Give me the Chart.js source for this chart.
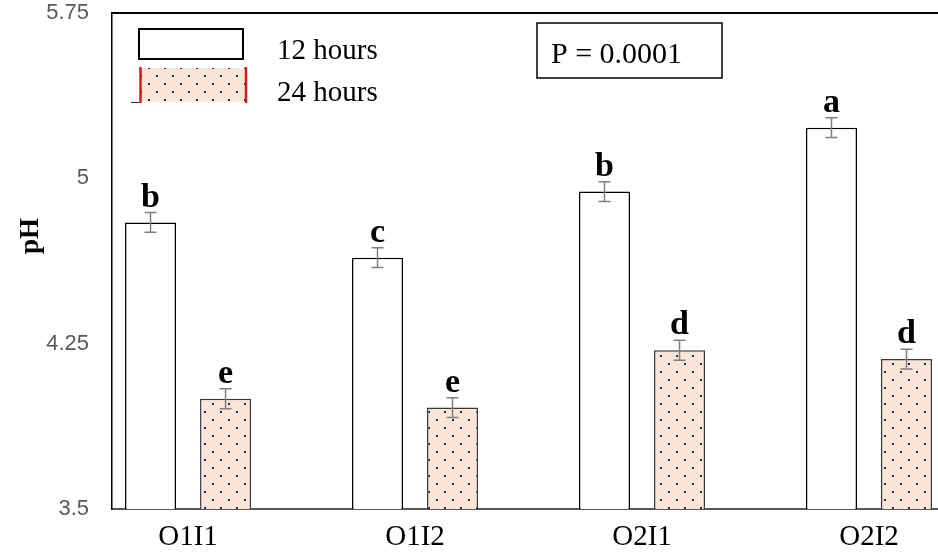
<!DOCTYPE html>
<html>
<head>
<meta charset="utf-8">
<script src="https://cdn.jsdelivr.net/npm/chart.js@4/dist/chart.umd.min.js"></script>
<style>
  html, body { margin: 0; padding: 0; background: #fff; overflow: hidden; }
  #wrap { width: 938px; height: 554px; }
</style>
</head>
<body>
<div id="wrap"><canvas id="c" width="938" height="554"></canvas></div>
<script>
// Treatments on the x axis
const categories = ['O1I1', 'O1I2', 'O2I1', 'O2I2'];
const seriesNames = ['12 hours', '24 hours'];

// Mean pH per treatment and its standard error
const ph12h = [4.80, 4.64, 4.94, 5.23];
const ph24h = [4.00, 3.96, 4.22, 4.18];
const se12h = [0.045, 0.045, 0.045, 0.045];
const se24h = [0.045, 0.045, 0.045, 0.045];

// Mean-separation letters shown above each bar
const groups12h = ['b', 'c', 'b', 'a'];
const groups24h = ['e', 'e', 'd', 'd'];

const yTicks = [3.5, 4.25, 5, 5.75];
const yTitle = 'pH';
const pValueText = 'P = 0.0001';

const SERIF = '"Liberation Serif", "Times New Roman", serif';
const SANS = '"Liberation Sans", Arial, sans-serif';
const PEACH = '#fbe5d6';
const NAVY = '#1f2b5c';

// Peach fill with a staggered grid of small navy dots
function dotPattern() {
  const t = document.createElement('canvas');
  t.width = 16; t.height = 16;
  const g = t.getContext('2d');
  g.fillStyle = PEACH;
  g.fillRect(0, 0, 16, 16);
  g.fillStyle = NAVY;
  g.fillRect(4, 3, 2, 2);
  g.fillRect(12, 11, 2, 2);
  return g.createPattern(t, 'repeat');
}

const ctx0 = document.getElementById('c').getContext('2d');
const pattern = dotPattern();

const toPoints = arr => arr.map((v, i) => ({ x: i + 1, y: v }));

const errors = [se12h, se24h];
const letters = [groups12h, groups24h];

const decorations = {
  id: 'decorations',
  afterDatasetsDraw(chart) {
    const ctx = chart.ctx;
    const y = chart.scales.y;
    chart.data.datasets.forEach((ds, di) => {
      const meta = chart.getDatasetMeta(di);
      meta.data.forEach((bar, j) => {
        const v = ds.data[j].y;
        const e = errors[di][j];
        const yHi = y.getPixelForValue(v + e);
        const yLo = y.getPixelForValue(v - e);
        const x = bar.x;
        ctx.save();
        ctx.strokeStyle = '#7f7f7f';
        ctx.lineWidth = 1.5;
        ctx.beginPath();
        ctx.moveTo(x, yHi); ctx.lineTo(x, yLo);
        ctx.moveTo(x - 6, yHi); ctx.lineTo(x + 6, yHi);
        ctx.moveTo(x - 6, yLo); ctx.lineTo(x + 6, yLo);
        ctx.stroke();
        ctx.fillStyle = '#000';
        ctx.font = 'bold 34px ' + SERIF;
        ctx.textAlign = 'center';
        ctx.textBaseline = 'alphabetic';
        ctx.fillText(letters[di][j], x, yHi - 6);
        ctx.restore();
      });
    });
  },
  afterDraw(chart) {
    const ctx = chart.ctx;
    const a = chart.chartArea;
    ctx.save();
    // frame line along the top of the plot
    ctx.strokeStyle = '#000';
    ctx.lineWidth = 2;
    ctx.beginPath();
    ctx.moveTo(a.left, a.top);
    ctx.lineTo(a.right, a.top);
    ctx.stroke();

    // y axis title
    ctx.save();
    ctx.translate(31, 236);
    ctx.rotate(-Math.PI / 2);
    ctx.font = 'bold 27px ' + SERIF;
    ctx.fillStyle = '#000';
    ctx.textAlign = 'center';
    ctx.textBaseline = 'middle';
    ctx.fillText(yTitle, 0, 0);
    ctx.restore();

    // legend swatches
    ctx.fillStyle = '#fff';
    ctx.fillRect(139, 29, 104, 30);
    ctx.strokeStyle = '#000';
    ctx.lineWidth = 2;
    ctx.strokeRect(139, 29, 104, 30);

    ctx.fillStyle = pattern;
    ctx.fillRect(140, 68, 107, 34);
    ctx.strokeStyle = '#d01c1c';
    ctx.lineWidth = 2.5;
    ctx.beginPath();
    ctx.moveTo(140.5, 67); ctx.lineTo(140.5, 103);
    ctx.moveTo(246, 67); ctx.lineTo(246, 103);
    ctx.stroke();
    ctx.strokeStyle = '#333';
    ctx.lineWidth = 1;
    ctx.beginPath();
    ctx.moveTo(131, 102.5); ctx.lineTo(139, 102.5);
    ctx.stroke();

    ctx.fillStyle = '#000';
    ctx.font = '29px ' + SERIF;
    ctx.textAlign = 'left';
    ctx.textBaseline = 'alphabetic';
    ctx.fillText(seriesNames[0], 277, 59);
    ctx.fillText(seriesNames[1], 277, 101);

    // p-value box
    ctx.strokeStyle = '#000';
    ctx.lineWidth = 1.5;
    ctx.strokeRect(537, 23, 185, 55);
    ctx.font = '30px ' + SERIF;
    ctx.fillText(pValueText, 551, 63);
    ctx.restore();
  }
};

new Chart(ctx0, {
  type: 'bar',
  data: {
    datasets: [
      {
        label: seriesNames[0],
        data: toPoints(ph12h),
        backgroundColor: '#ffffff',
        borderColor: '#000000',
        borderWidth: 1.5,
        categoryPercentage: 0.661,
        barPercentage: 0.68
      },
      {
        label: seriesNames[1],
        data: toPoints(ph24h),
        backgroundColor: pattern,
        borderColor: '#3a3a3a',
        borderWidth: 1.5,
        categoryPercentage: 0.661,
        barPercentage: 0.68
      }
    ]
  },
  options: {
    responsive: false,
    animation: false,
    layout: { padding: { top: 13, left: 0, right: 0, bottom: 0 } },
    plugins: {
      legend: { display: false },
      tooltip: { enabled: false },
      title: { display: false }
    },
    scales: {
      x: {
        type: 'linear',
        offset: false,
        min: 0.665,
        max: 4.304,
        afterBuildTicks(scale) {
          scale.ticks = categories.map((c, i) => ({ value: i + 1 }));
        },
        afterFit(scale) {
          scale.height = 45;
          scale.paddingLeft = 0;
          scale.paddingRight = 0;
        },
        grid: { display: false, drawTicks: false },
        border: { display: true, color: '#595959', width: 2 },
        ticks: {
          autoSkip: false,
          maxRotation: 0,
          padding: 11,
          color: '#000',
          font: { family: SERIF, size: 29 },
          callback: v => categories[Math.round(v) - 1] || ''
        }
      },
      y: {
        min: 3.5,
        max: 5.75,
        afterBuildTicks(scale) {
          scale.ticks = yTicks.map(v => ({ value: v }));
        },
        afterFit(scale) {
          scale.width = 112;
          scale.paddingTop = 0;
          scale.paddingBottom = 0;
        },
        grid: { display: false, drawTicks: false },
        border: { display: true, color: '#000', width: 1.5 },
        ticks: {
          padding: 23,
          color: '#595959',
          font: { family: SANS, size: 22 },
          callback: v => String(v)
        }
      }
    }
  },
  plugins: [decorations]
});
</script>
</body>
</html>
